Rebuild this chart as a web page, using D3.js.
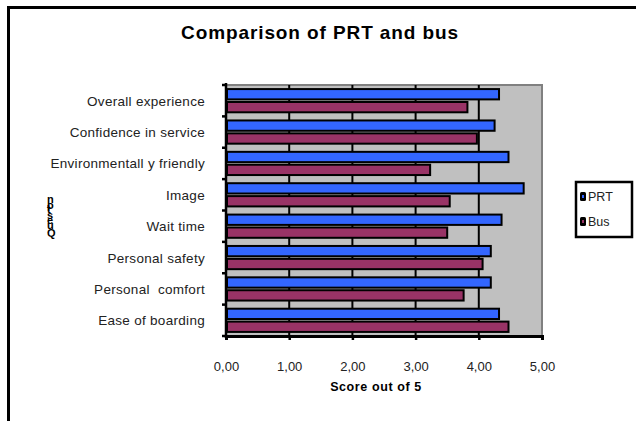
<!DOCTYPE html>
<html>
<head>
<meta charset="UTF-8">
<script src="https://d3js.org/d3.v7.min.js"></script>
<style>
  html, body { margin: 0; padding: 0; background: #fff; }
  svg { display: block; font-family: "Liberation Sans", Arial, sans-serif; }
</style>
</head>
<body>
<svg width="636" height="421"></svg>
<script>
// données
const categories = ["Overall experience", "Confidence in service", "Environmentall y friendly",
  "Image", "Wait time", "Personal safety", "Personal  comfort", "Ease of boarding"];
const prt = [4.32, 4.25, 4.47, 4.71, 4.36, 4.19, 4.19, 4.32];
const bus = [3.82, 3.97, 3.23, 3.54, 3.50, 4.06, 3.76, 4.47];
const series = ["PRT", "Bus"];
const colors = ["#3366ff", "#993366"];
const xTicks = [0, 1, 2, 3, 4, 5];

const svg = d3.select("svg");

// cadre extérieur (coupé à droite et en bas)
svg.append("rect")
  .attr("x", 8.5).attr("y", 7.5)
  .attr("width", 640).attr("height", 430)
  .attr("fill", "none").attr("stroke", "#000").attr("stroke-width", 3);

svg.append("text")
  .attr("x", 320).attr("y", 39)
  .attr("text-anchor", "middle")
  .attr("font-weight", "bold").attr("font-size", 19)
  .attr("letter-spacing", 0.9)
  .text("Comparison of PRT and bus");

const pLeft = 226, pRight = 542, pTop = 85, pBottom = 336;

const x = d3.scaleLinear().domain([0, 5]).range([pLeft, pRight]);
const y = d3.scaleBand().domain(categories).range([pTop, pBottom]).paddingInner(0.26).paddingOuter(0.13);
const ySub = d3.scaleBand().domain(series).range([0, y.bandwidth()]).paddingInner(0.2);

// fond gris
svg.append("rect")
  .attr("x", pLeft).attr("y", pTop)
  .attr("width", pRight - pLeft).attr("height", pBottom - pTop)
  .attr("fill", "#c0c0c0");
svg.append("path")
  .attr("d", `M${pLeft},${pTop}H${pRight}V${pBottom}`)
  .attr("fill", "none").attr("stroke", "#808080").attr("stroke-width", 2);

// grille verticale
svg.append("g").selectAll("line")
  .data(xTicks.slice(1, -1))
  .join("line")
  .attr("x1", d => x(d)).attr("x2", d => x(d))
  .attr("y1", pTop).attr("y2", pBottom)
  .attr("stroke", "#000").attr("stroke-width", 2);

// barres
const rows = categories.map((c, i) => ({ c, vals: [prt[i], bus[i]] }));
const g = svg.append("g");
rows.forEach(r => {
  r.vals.forEach((v, j) => {
    g.append("rect")
      .attr("x", x(0) + 1)
      .attr("y", y(r.c) + ySub(series[j]))
      .attr("width", x(v) - x(0) - 1)
      .attr("height", ySub.bandwidth())
      .attr("fill", colors[j])
      .attr("stroke", "#000").attr("stroke-width", 2);
  });
});

// axe gauche
svg.append("line")
  .attr("x1", pLeft).attr("x2", pLeft).attr("y1", pTop - 2).attr("y2", pBottom + 2)
  .attr("stroke", "#000").attr("stroke-width", 2.5);
const bounds = categories.map(c => y(c) - y.step() * y.paddingInner() / 2);
bounds.push(pBottom);
bounds[0] = pTop;
svg.append("g").selectAll("line")
  .data(bounds)
  .join("line")
  .attr("x1", pLeft - 4).attr("x2", pLeft)
  .attr("y1", d => d).attr("y2", d => d)
  .attr("stroke", "#000").attr("stroke-width", 2.5);

svg.append("g").selectAll("text")
  .data(categories)
  .join("text")
  .attr("x", 205)
  .attr("y", d => y(d) + y.bandwidth() / 2 + 5)
  .attr("text-anchor", "end")
  .attr("font-size", 13.5).attr("fill", "#222")
  .attr("letter-spacing", 0.3)
  .style("white-space", "pre")
  .text(d => d);

// axe du bas
const xAxis = svg.append("g")
  .attr("transform", `translate(0,${pBottom})`)
  .call(d3.axisBottom(x).tickValues(xTicks).tickSize(4).tickFormat(d => d3.format(".2f")(d).replace(".", ",")));
xAxis.select(".domain").attr("stroke", "#000").attr("stroke-width", 3);
xAxis.selectAll(".tick line").attr("stroke", "#000").attr("stroke-width", 2.5);
xAxis.selectAll(".tick text")
  .attr("y", 26).attr("font-size", 13).attr("fill", "#222")
  .attr("font-family", "Liberation Sans, Arial, sans-serif");

svg.append("text")
  .attr("x", 376).attr("y", 391)
  .attr("text-anchor", "middle")
  .attr("font-weight", "bold").attr("font-size", 12.5)
  .attr("letter-spacing", 0.6)
  .text("Score out of 5");

// titre de l'axe vertical : lettres droites empilées de bas en haut
svg.append("text")
  .attr("transform", "translate(47,237) rotate(-90)")
  .attr("rotate", 90)
  .attr("letter-spacing", -1)
  .attr("font-weight", "bold").attr("font-size", 11)
  .text("Question");

// légende
const leg = svg.append("g");
leg.append("rect")
  .attr("x", 576).attr("y", 182).attr("width", 56).attr("height", 55)
  .attr("fill", "#fff").attr("stroke", "#000").attr("stroke-width", 2.5);
series.forEach((s, i) => {
  const ly = 197 + i * 25;
  leg.append("rect")
    .attr("x", 580).attr("y", ly - 5).attr("width", 6).attr("height", 9)
    .attr("rx", 1.5)
    .attr("fill", "#000");
  leg.append("rect")
    .attr("x", 582).attr("y", ly - 2).attr("width", 2).attr("height", 3)
    .attr("fill", colors[i]);
  leg.append("text")
    .attr("x", 588).attr("y", ly + 4)
    .attr("font-size", 12.5).attr("fill", "#222")
    .text(s);
});
</script>
</body>
</html>
